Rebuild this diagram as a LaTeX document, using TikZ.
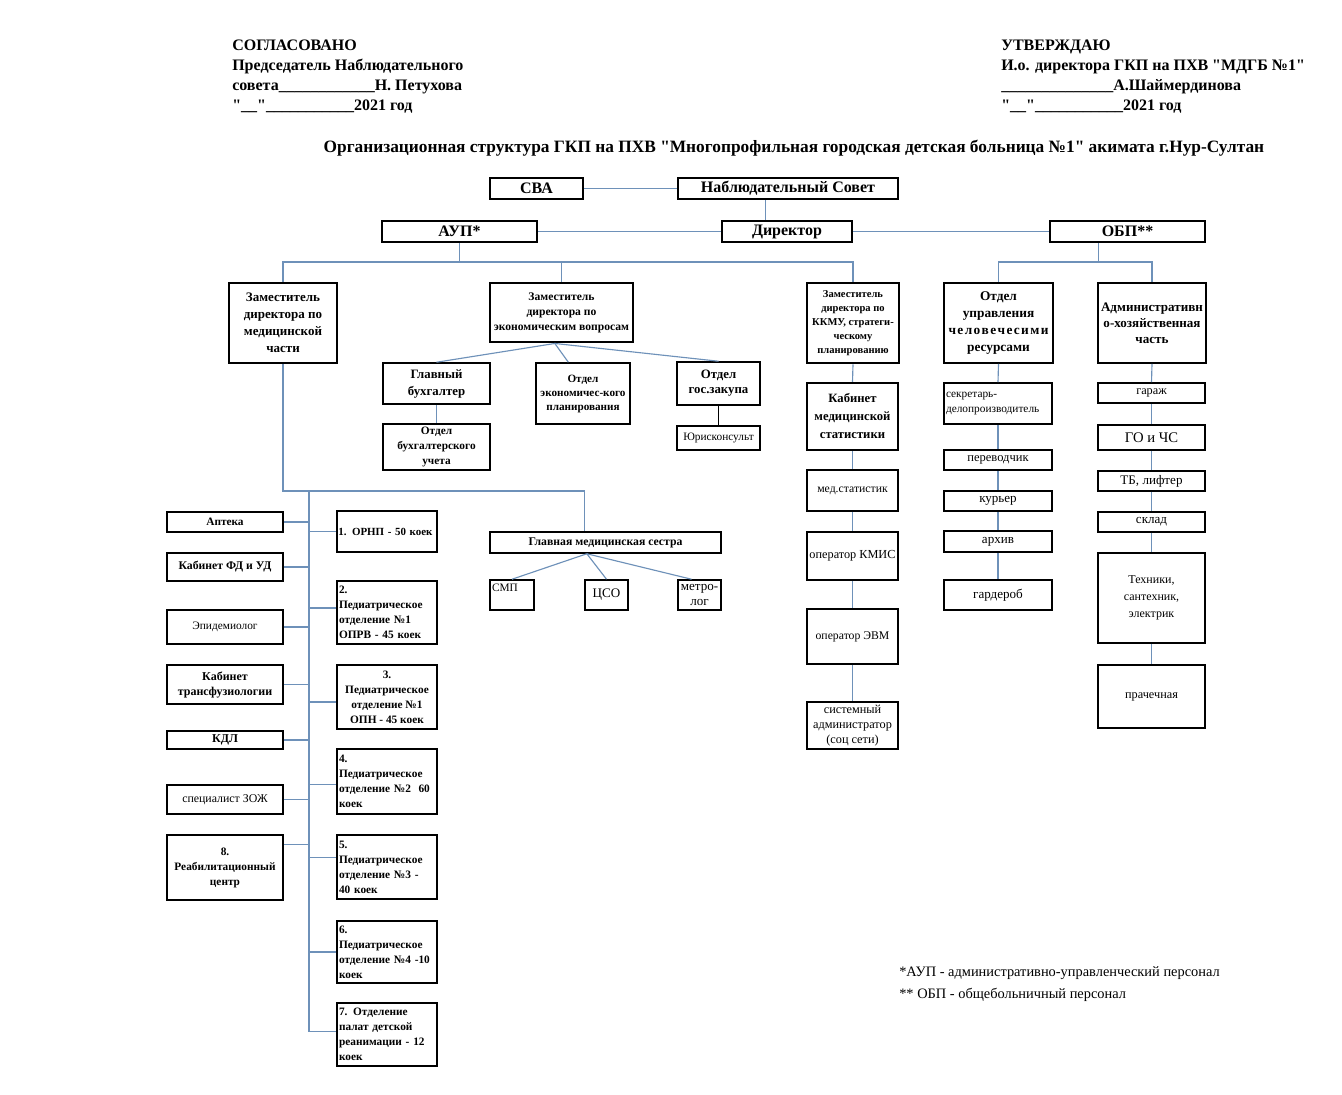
\documentclass[tikz,border=0pt]{standalone}
\usepackage{fontspec}
\setmainfont{Liberation Serif}[Ligatures=TeXOff]
\usetikzlibrary{calc}
\definecolor{linec}{RGB}{110,145,185}
\newcommand\fsz[2]{\fontsize{#1}{#2}\selectfont}
\newcommand\bx[7]{\node[#6,minimum width={(#4-#2)*0.75pt},minimum height={(#5-#3)*0.75pt}] (#1) at ({(#2+#4)/2},{(#3+#5)/2}) {#7};}
\begin{document}
\begin{tikzpicture}[x=0.75pt,y=-0.75pt,
  base/.style={draw=black,fill=white,inner sep=1pt,align=center},
  tbox/.style={base,line width=2.2pt},
  mbox/.style={base,line width=1.6pt},
  nbox/.style={base,line width=1.15pt},
  conn/.style={draw=linec,line width=0.85pt},
  bfA/.style={font=\fsz{12}{13}\bfseries},
  bfnine/.style={font=\fsz{9.6}{12.75}\bfseries},
  bfeight/.style={font=\fsz{8.5}{11.25}\bfseries},
  bfdep/.style={font=\fsz{8.5}{11.25}\bfseries},
  rgeight/.style={font=\fsz{8.5}{11.5}},
  rgten/.style={font=\fsz{9.8}{12}},
  lft/.style={align=left,text width=#1}
]
\fill[white] (0,0) rectangle (1342,1095);
\useasboundingbox (0,0) rectangle (1342,1095);

% header
\node[anchor=north west,align=left,inner sep=0pt,font=\fsz{12}{15}\bfseries] (hdrL) at (232,40)
 {СОГЛАСОВАНО\\Председатель Наблюдательного\\совета\_\_\_\_\_\_\_\_\_\_\_\_Н. Петухова\\"\_\_"\_\_\_\_\_\_\_\_\_\_\_2021 год};
\node[anchor=north west,align=left,inner sep=0pt,font=\fsz{12}{15}\bfseries] (hdrR) at (1001,40)
 {УТВЕРЖДАЮ\\И.о. директора ГКП на ПХВ "МДГБ №1"\\\_\_\_\_\_\_\_\_\_\_\_\_\_\_А.Шаймердинова\\"\_\_"\_\_\_\_\_\_\_\_\_\_\_2021 год};
\node[font=\fsz{13}{15}\bfseries,inner sep=0pt] (title) at (794,148)
 {Организационная структура ГКП на ПХВ "Многопрофильная городская детская больница №1" акимата г.Нур-Султан};

% top level
\bx{sva}{490}{178}{583}{199}{tbox,bfA}{СВА}
\bx{nab}{678}{178}{898}{199}{tbox,bfA}{Наблюдательный Совет}
\bx{aup}{382}{221}{537}{242}{tbox,bfA}{АУП*}
\bx{dir}{722}{221}{852}{242}{tbox,bfA}{Директор}
\bx{obp}{1050}{221}{1205}{242}{tbox,bfA}{ОБП**}

% deputies
\bx{zm}{229}{283}{337}{363}{tbox,font=\fsz{9.75}{12.75}\bfseries}{Заместитель\\директора по\\медицинской\\части}
\bx{ze}{490}{283}{633}{342}{tbox,font=\fsz{8.7}{11.25}\bfseries}{Заместитель\\директора по\\экономическим вопросам}
\bx{zk}{807}{283}{899}{363}{tbox,font=\fsz{7.9}{10.5}\bfseries}{Заместитель\\директора по\\ККМУ, стратеги-\\ческому\\планированию}
\bx{ou}{944}{283}{1053}{363}{nbox,font=\fsz{10}{12.75}\bfseries}{Отдел\\управления\\\hbox to 75pt{ч\hfill е\hfill л\hfill о\hfill в\hfill е\hfill ч\hfill е\hfill с\hfill и\hfill м\hfill и}\\ресурсами}
\bx{ah}{1098}{283}{1206}{363}{nbox,font=\fsz{9.8}{12}\bfseries}{Административн\\о-хозяйственная\\часть}

% economics
\bx{gb}{383}{363}{490}{404}{nbox,bfnine}{Главный\\бухгалтер}
\bx{oe}{536}{363}{630}{424}{nbox,font=\fsz{8.4}{10.5}\bfseries}{Отдел\\экономичес-кого\\планирования}
\bx{gz}{677}{362}{760}{405}{nbox,font=\fsz{9.6}{11.25}\bfseries}{Отдел\\гос.закупа}
\bx{ur}{677}{426}{760}{450}{nbox,rgeight}{Юрисконсульт}
\bx{bu}{383}{424}{490}{470}{nbox,bfeight}{Отдел\\бухгалтерского\\учета}

% KKMU column
\bx{kms}{807}{383}{898}{450}{mbox,font=\fsz{9.5}{13.5}\bfseries}{Кабинет\\медицинской\\статистики}
\bx{mst}{807}{470}{898}{511}{nbox,font=\fsz{8.8}{11.5}}{мед.статистик}
\bx{kmis}{807}{532}{898}{580}{nbox,font=\fsz{9.2}{11.5}}{оператор КМИС}
\bx{evm}{807}{609}{898}{664}{nbox,font=\fsz{8.8}{11.5}}{оператор ЭВМ}
\bx{sad}{807}{702}{898}{749}{nbox,font=\fsz{9.2}{11.2}}{системный\\администратор\\(соц сети)}

% HR column
\bx{sek}{944}{383}{1052}{424}{nbox,rgeight,lft=78pt}{секретарь-\\делопроизводитель}
\bx{per}{944}{450}{1052}{470}{nbox,font=\fsz{9.4}{11.5}}{переводчик}
\bx{kur}{944}{491}{1052}{511}{nbox,rgten}{курьер}
\bx{arh}{944}{531}{1052}{552}{nbox,rgten}{архив}
\bx{grd}{944}{580}{1052}{610}{nbox,rgten}{гардероб}

% admin column
\bx{gar}{1098}{383}{1205}{403}{nbox,font=\fsz{9.2}{11.5}}{гараж}
\bx{go}{1098}{425}{1205}{450}{nbox,font=\fsz{11}{12}}{ГО и ЧС}
\bx{tb}{1098}{471}{1205}{491}{nbox,rgten}{ТБ, лифтер}
\bx{skl}{1098}{512}{1205}{532}{nbox,rgten}{склад}
\bx{teh}{1098}{553}{1205}{643}{nbox,font=\fsz{9}{12.75}}{Техники,\\сантехник,\\электрик}
\bx{pra}{1098}{665}{1205}{728}{nbox,font=\fsz{9.2}{11.5}}{прачечная}

% left column
\bx{apt}{167}{512}{283}{532}{nbox,bfeight}{Аптека}
\bx{fd}{167}{553}{283}{581}{nbox,font=\fsz{8.8}{11.25}\bfseries}{Кабинет ФД и УД}
\bx{epi}{167}{610}{283}{644}{nbox,rgeight}{Эпидемиолог}
\bx{tr}{167}{665}{283}{704}{nbox,font=\fsz{9}{11.25}\bfseries}{Кабинет\\трансфузиологии}
\bx{kdl}{167}{731}{283}{749}{nbox,font=\fsz{9}{11.25}\bfseries}{КДЛ}
\bx{zoj}{167}{785}{283}{814}{nbox,font=\fsz{8.9}{11.5}}{специалист ЗОЖ}
\bx{reab}{167}{835}{283}{900}{nbox,bfeight}{8.\\Реабилитационный\\центр}

% right column (departments)
\bx{d1}{337}{511}{437}{552}{nbox,font=\fsz{8.2}{11.25}\bfseries,lft=73pt}{1. ОРНП - 50 коек}
\bx{d2}{337}{581}{437}{644}{nbox,bfdep,lft=72pt}{2.\\Педиатрическое\\отделение №1\\ОПРВ - 45 коек}
\bx{d3}{337}{665}{437}{729}{nbox,bfdep}{3.\\Педиатрическое\\отделение №1\\ОПН - 45 коек}
\bx{d4}{337}{749}{437}{814}{nbox,bfdep,lft=72pt}{4.\\Педиатрическое\\отделение №2~~60\\коек}
\bx{d5}{337}{835}{437}{899}{nbox,bfdep,lft=72pt}{5.\\Педиатрическое\\отделение №3 -\\40 коек}
\bx{d6}{337}{921}{437}{983}{nbox,bfdep,lft=72pt}{6.\\Педиатрическое\\отделение №4 -10\\коек}
\bx{d7}{337}{1003}{437}{1066}{nbox,bfdep,lft=72pt}{7. Отделение\\палат детской\\реанимации - 12\\коек}

% head nurse
\bx{gms}{490}{532}{721}{553}{nbox,font=\fsz{8.8}{11.25}\bfseries}{Главная медицинская сестра}
\bx{smp}{490}{580}{534}{610}{nbox,rgeight,lft=30pt}{\raisebox{11pt}{СМП}}
\bx{cso}{585}{580}{628}{610}{nbox,rgten}{ЦСО}
\bx{met}{678}{580}{721}{610}{nbox,font=\fsz{9.8}{11.5}}{метро-\\лог}

% footnotes
\node[anchor=north west,align=left,inner sep=0pt,font=\fsz{10.8}{16.5}] (fn) at (899,966)
 {*АУП - административно-управленческий персонал\\** ОБП - общебольничный персонал};

% connectors: top
\coordinate (busA) at (0,262);
\coordinate (nabF) at ([xshift=-17pt]nab.south);
\coordinate (obpF) at ([xshift=-22pt]obp.south);
\draw[conn] (sva.east) -- (nab.west);
\draw[conn] (nabF) -- (nabF |- dir.north);
\draw[conn] (aup.east) -- (dir.west);
\draw[conn] (dir.east) -- (obp.west);
\draw[conn] (aup.south) -- (aup.south |- busA);
\draw[conn] (zm.north) -- (zm.north |- busA) -- (zk.north |- busA) -- (zk.north);
\draw[conn] (ze.north) -- (ze.north |- busA);
\draw[conn] (obpF) -- (obpF |- busA);
\draw[conn] (ou.north) -- (ou.north |- busA) -- (ah.north |- busA) -- (ah.north);

% economics fan
\coordinate (zeF) at ([xshift=-5pt]ze.south);
\draw[conn] (zeF) -- (gb.north);
\draw[conn] (zeF) -- ([xshift=-11pt]oe.north);
\draw[conn] (zeF) -- (gz.north);
\draw[line width=1pt] (gz.south) -- (ur.north);
\draw[conn] (gb.south) -- (bu.north);

% columns
\draw[conn] (zk.south) -- (kms.north);
\draw[conn] (kms.south) -- (mst.north);
\draw[conn] (mst.south) -- (kmis.north);
\draw[conn] (kmis.south) -- (evm.north);
\draw[conn] (evm.south) -- (sad.north);
\draw[conn] (ou.south) -- (sek.north);
\draw[conn] (sek.south) -- (per.north);
\draw[conn] (per.south) -- (kur.north);
\draw[conn] (kur.south) -- (arh.north);
\draw[conn] (arh.south) -- (grd.north);
\draw[conn] (ah.south) -- (gar.north);
\draw[conn] (gar.south) -- (go.north);
\draw[conn] (go.south) -- (tb.north);
\draw[conn] (tb.south) -- (skl.north);
\draw[conn] (skl.south) -- (teh.north);
\draw[conn] (teh.south) -- (pra.north);

% medical trunk
\coordinate (tTop) at (309,491);
\coordinate (tBot) at (309,1032);
\coordinate (gmsIn) at ([xshift=-16pt]gms.north);
\draw[conn] (zm.south) -- (zm.south |- tTop) -- (gmsIn |- tTop) -- (gmsIn);
\draw[conn] (tTop) -- (tBot);
\coordinate (gmsF) at ([xshift=-14pt]gms.south);
\draw[conn] (gmsF) -- (smp.north);
\draw[conn] (gmsF) -- (cso.north);
\draw[conn] (gmsF) -- ([xshift=-6pt]met.north);

\foreach \n in {apt,fd,epi,tr,kdl,zoj}{\draw[conn] (\n.east) -- (\n.east -| tTop);}
\coordinate (reabC) at ([yshift=17.5pt]reab.east);
\draw[conn] (reabC) -- (reabC -| tTop);
\foreach \n/\s in {d1/0pt,d2/3.4pt,d3/-3.7pt,d4/-2pt,d5/7pt,d6/0pt,d7/2pt}{
  \coordinate (c\n) at ([yshift=\s]\n.west);
  \draw[conn] (c\n -| tTop) -- (c\n);}
\end{tikzpicture}
\end{document}
